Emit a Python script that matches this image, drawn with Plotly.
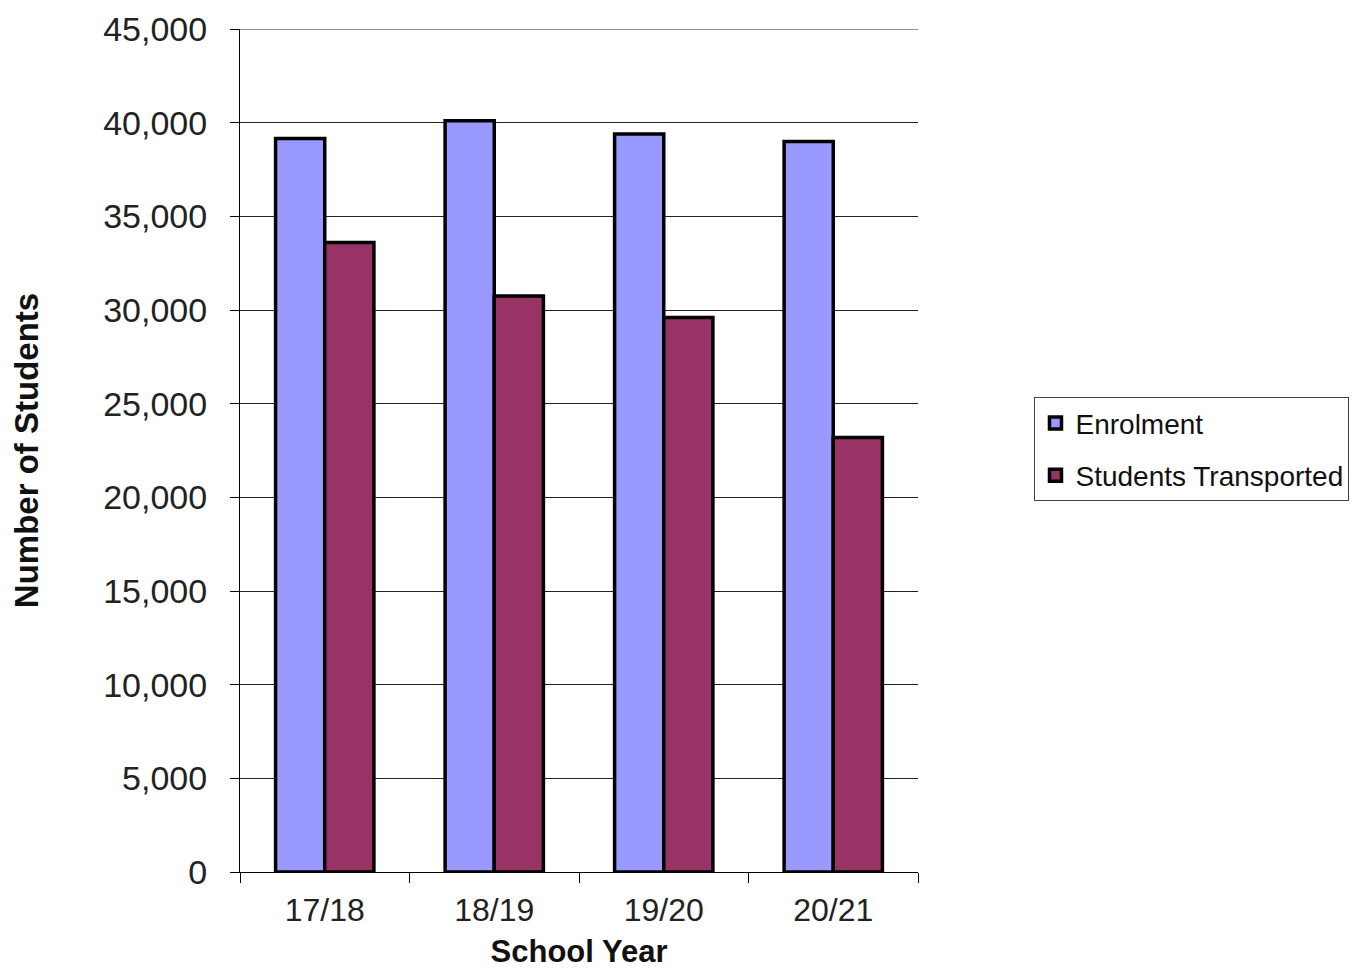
import plotly.graph_objects as go

years = ["17/18", "18/19", "19/20", "20/21"]
enrolment = [39150, 40100, 39400, 39000]
transported = [33600, 30750, 29600, 23200]
y_ticks = [0, 5000, 10000, 15000, 20000, 25000, 30000, 35000, 40000, 45000]
y_max = 45000

FONT = "Liberation Sans, Arial, sans-serif"

fig = go.Figure()
fig.add_trace(go.Bar(x=years, y=enrolment, name="Enrolment", legendgroup="a",
                     marker=dict(color="#9999FF", line=dict(color="black", width=3.5))))
fig.add_trace(go.Bar(x=years, y=transported, name="Students Transported", legendgroup="b",
                     marker=dict(color="#993366", line=dict(color="black", width=3.5))))

# top gridline at the axis maximum
fig.add_shape(type="line", xref="paper", yref="y", x0=0, x1=1, y0=y_max, y1=y_max,
              line=dict(color="#222", width=1), layer="below")

fig.update_layout(
    width=1356, height=961,
    margin=dict(l=232, r=446, t=21, b=97, autoexpand=False),
    paper_bgcolor="white", plot_bgcolor="white",
    barmode="group", bargap=0.42, bargroupgap=0,
    font=dict(family=FONT, color="#111"),
    legend=dict(xref="container", yref="container", x=0.757, xanchor="left", y=0.595, yanchor="top",
                bordercolor="#444", borderwidth=1, bgcolor="white",
                font=dict(size=28, family=FONT, color="#111"),
                traceorder="grouped", tracegroupgap=13),
    showlegend=True,
)
fig.update_yaxes(
    range=[0, y_max], tickvals=y_ticks, tickformat=",", automargin=False,
    showgrid=True, gridcolor="#222", gridwidth=1,
    showline=True, linecolor="black", linewidth=1,
    ticks="outside", ticklen=9, tickcolor="black", ticklabelstandoff=16,
    tickfont=dict(size=34, family=FONT, color="#222"),
    title=dict(text="<b>Number of Students</b>", font=dict(size=33, family=FONT, color="#111"), standoff=56),
    zeroline=False,
)
fig.update_xaxes(
    automargin=False,
    showline=True, linecolor="black", linewidth=1,
    ticks="outside", tickson="boundaries", ticklen=10, tickcolor="black", ticklabelstandoff=10,
    tickfont=dict(size=32, family=FONT, color="#222"),
    title=dict(text="<b>School Year</b>", font=dict(size=31, family=FONT, color="#111"), standoff=30),
)

fig.write_html("out.html")
